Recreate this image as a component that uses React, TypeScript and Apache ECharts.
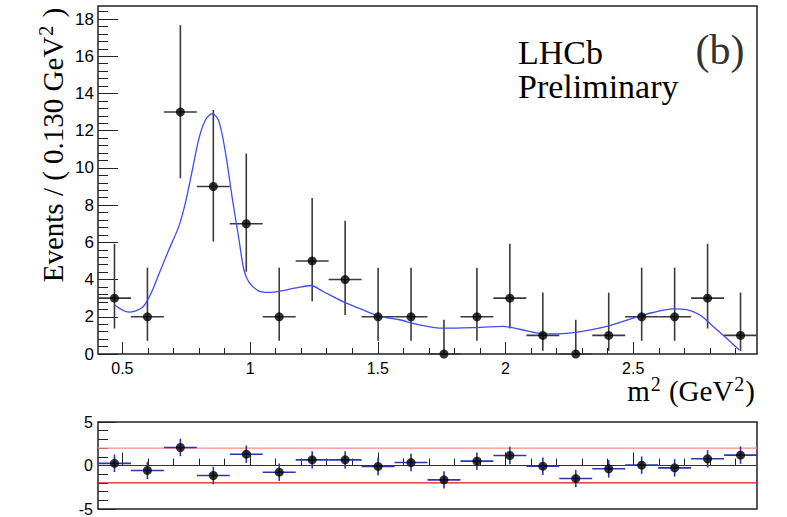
import React, { useEffect, useRef } from "react";
import * as echarts from "echarts";

// ---- data ----
const binCenters = [0.469, 0.598, 0.727, 0.856, 0.985, 1.114, 1.243, 1.372, 1.501, 1.63, 1.759, 1.888, 2.017, 2.146, 2.275, 2.404, 2.533, 2.662, 2.791, 2.92];
const counts = [3, 2, 13, 9, 7, 2, 5, 4, 2, 2, 0, 2, 3, 1, 0, 1, 2, 2, 3, 1];
const errHigh = [2.92, 2.64, 4.67, 4.11, 3.77, 2.64, 3.38, 3.16, 2.64, 2.64, 1.84, 2.64, 2.92, 2.3, 1.84, 2.3, 2.64, 2.64, 2.92, 2.3];
const errLow = [1.63, 1.29, 3.56, 2.96, 2.58, 1.29, 2.16, 1.91, 1.29, 1.29, 0, 1.29, 1.63, 0.83, 0, 0.83, 1.29, 1.29, 1.63, 0.83];
const pulls = [0.25, -0.57, 2.07, -1.15, 1.3, -0.77, 0.65, 0.65, -0.11, 0.34, -1.65, 0.5, 1.15, -0.08, -1.5, -0.38, 0.04, -0.27, 0.77, 1.19];
const fitX = [0.469, 0.525, 0.578, 0.61, 0.643, 0.682, 0.722, 0.748, 0.774, 0.8, 0.826, 0.852, 0.878, 0.905, 0.931, 0.957, 0.976, 0.996, 1.035, 1.075, 1.114, 1.18, 1.238, 1.284, 1.362, 1.44, 1.506, 1.584, 1.663, 1.754, 1.872, 1.99, 2.055, 2.16, 2.238, 2.316, 2.408, 2.5, 2.578, 2.656, 2.709, 2.76, 2.813, 2.865, 2.915];
const fitY = [2.65, 2.25, 2.5, 3.2, 4.3, 5.6, 6.9, 8.2, 9.9, 11.6, 12.6, 12.92, 12.5, 10.7, 8.3, 6.1, 4.5, 3.85, 3.38, 3.31, 3.37, 3.55, 3.68, 3.37, 2.83, 2.38, 2.04, 1.84, 1.57, 1.39, 1.42, 1.48, 1.33, 1.08, 1.11, 1.26, 1.53, 1.93, 2.23, 2.43, 2.38, 2.11, 1.48, 0.85, 0.22];
const xTickLabels = [0.5, 1, 1.5, 2, 2.5];
const yTickLabels = [0, 2, 4, 6, 8, 10, 12, 14, 16, 18];
const pullTickLabels = [-5, 0, 5];
const binHalfWidth = 0.0645;

const X_MIN = 0.4045;
const X_MAX = 2.9845;

function steps(from: number, to: number, step: number): number[] {
  const out: number[] = [];
  const n = Math.round((to - from) / step);
  for (let i = 0; i <= n; i++) out.push(Math.round((from + i * step) * 1000) / 1000);
  return out;
}

const SANS = "'Liberation Sans', Arial, sans-serif";
const SERIF = "'Liberation Serif', 'Times New Roman', serif";
const FRAME = "#222";

function errRenderer(color: string) {
  return (params: any, api: any) => {
    const x = api.value(0);
    const y = api.value(1);
    const lo = api.value(2);
    const hi = api.value(3);
    const pL = api.coord([x - binHalfWidth, y]);
    const pR = api.coord([x + binHalfWidth, y]);
    const pT = api.coord([x, y + hi]);
    const pB = api.coord([x, y - lo]);
    return {
      type: "group",
      children: [
        { type: "line", shape: { x1: pL[0], y1: pL[1], x2: pR[0], y2: pR[1] }, style: { stroke: color, lineWidth: 1.6 } },
        { type: "line", shape: { x1: pT[0], y1: pT[1], x2: pB[0], y2: pB[1] }, style: { stroke: color, lineWidth: 1.6 } },
      ],
    };
  };
}

const supRich = {
  sup: { fontSize: 20, fontFamily: SERIF, fill: "#000", verticalAlign: "top", lineHeight: 34, padding: [0, 1, 0, 1] },
};

export default function App() {
  const ref = useRef<HTMLDivElement>(null);
  useEffect(() => {
    document.body.style.margin = "0";
    if (!ref.current) return;
    const chart = echarts.init(ref.current, undefined, { renderer: "svg" });

    const tickStyle = { color: FRAME, width: 1 };
    const xAxisCommon = { type: "value", min: X_MIN, max: X_MAX, position: "bottom", axisLine: { show: false }, splitLine: { show: false } };

    const option: any = {
      animation: false,
      backgroundColor: "#fff",
      grid: [
        { left: 98, top: 6, width: 659, height: 348, show: true, borderColor: FRAME, borderWidth: 1.5, backgroundColor: "transparent", outerBoundsMode: "none" },
        { left: 98, top: 422, width: 659, height: 87, show: true, borderColor: FRAME, borderWidth: 1.5, backgroundColor: "transparent", outerBoundsMode: "none" },
      ],
      xAxis: [
        {
          ...xAxisCommon, gridIndex: 0,
          axisTick: { inside: true, length: 12, customValues: xTickLabels, lineStyle: tickStyle },
          axisLabel: { customValues: xTickLabels, formatter: (v: number) => String(v), fontSize: 16, color: "#000", fontFamily: SANS, margin: 6 },
        },
        {
          ...xAxisCommon, gridIndex: 0,
          axisTick: { inside: true, length: 6, customValues: steps(0.5, 2.9, 0.1), lineStyle: tickStyle },
          axisLabel: { show: false },
        },
        {
          ...xAxisCommon, gridIndex: 1,
          axisTick: { inside: true, length: 13, customValues: xTickLabels, lineStyle: tickStyle },
          axisLabel: { show: false },
        },
        {
          ...xAxisCommon, gridIndex: 1,
          axisTick: { inside: true, length: 7, customValues: steps(0.5, 2.9, 0.1), lineStyle: tickStyle },
          axisLabel: { show: false },
        },
      ],
      yAxis: [
        {
          type: "value", gridIndex: 0, min: 0, max: 18.7, position: "left", axisLine: { show: false }, splitLine: { show: false },
          axisTick: { inside: true, length: 20, customValues: yTickLabels, lineStyle: tickStyle },
          axisLabel: { customValues: yTickLabels, fontSize: 17, color: "#000", fontFamily: SANS, margin: 4 },
        },
        {
          type: "value", gridIndex: 0, min: 0, max: 18.7, position: "left", axisLine: { show: false }, splitLine: { show: false },
          axisTick: { inside: true, length: 10, customValues: steps(0, 18.4, 0.4), lineStyle: tickStyle },
          axisLabel: { show: false },
        },
        {
          type: "value", gridIndex: 1, min: -5, max: 5, position: "left", axisLine: { show: false }, splitLine: { show: false },
          axisTick: { inside: true, length: 18, customValues: pullTickLabels, lineStyle: tickStyle },
          axisLabel: { customValues: pullTickLabels, fontSize: 16, color: "#000", fontFamily: SANS, margin: 5 },
        },
        {
          type: "value", gridIndex: 1, min: -5, max: 5, position: "left", axisLine: { show: false }, splitLine: { show: false },
          axisTick: { inside: true, length: 10, customValues: steps(-5, 5, 1), lineStyle: tickStyle },
          axisLabel: { show: false },
        },
      ],
      series: [
        {
          type: "custom", xAxisIndex: 0, yAxisIndex: 0, clip: false,
          renderItem: errRenderer("#3a3a3a"),
          encode: { x: 0, y: 1 },
          data: binCenters.map((x, i) => [x, counts[i], errLow[i], errHigh[i]]),
          z: 2,
        },
        {
          type: "line", xAxisIndex: 0, yAxisIndex: 0, smooth: 0.3, showSymbol: false, symbol: "none",
          lineStyle: { color: "#3d4cf5", width: 1.3 },
          data: fitX.map((x, i) => [x, fitY[i]]),
          z: 3,
        },
        {
          type: "scatter", xAxisIndex: 0, yAxisIndex: 0, clip: false, symbolSize: 9,
          itemStyle: { color: "#000" },
          data: binCenters.map((x, i) => [x, counts[i]]),
          z: 4,
        },
        {
          type: "line", xAxisIndex: 2, yAxisIndex: 2, symbol: "none",
          lineStyle: { color: "#ff8a8a", width: 1.4 },
          data: [[X_MIN, 2], [X_MAX, 2]],
          z: 1,
        },
        {
          type: "line", xAxisIndex: 2, yAxisIndex: 2, symbol: "none",
          lineStyle: { color: "#ee1111", width: 1.2 },
          data: [[X_MIN, -2], [X_MAX, -2]],
          z: 1,
        },
        {
          type: "line", xAxisIndex: 2, yAxisIndex: 2, symbol: "none",
          lineStyle: { color: "#333", width: 1.2 },
          data: [[X_MIN, 0], [X_MAX, 0]],
          z: 1,
        },
        {
          type: "custom", xAxisIndex: 2, yAxisIndex: 2, clip: false,
          renderItem: errRenderer("#2a35b0"),
          encode: { x: 0, y: 1 },
          data: binCenters.map((x, i) => [x, pulls[i], 1, 1]),
          z: 2,
        },
        {
          type: "scatter", xAxisIndex: 2, yAxisIndex: 2, clip: false, symbolSize: 9,
          itemStyle: { color: "#000" },
          data: binCenters.map((x, i) => [x, pulls[i]]),
          z: 4,
        },
      ],
      graphic: [
        {
          type: "text", x: 53, y: 145, rotation: Math.PI / 2,
          style: { text: "Events / ( 0.130 GeV{sup|2} )", fontSize: 29, fontFamily: SERIF, fill: "#000", align: "center", verticalAlign: "middle", rich: supRich },
        },
        {
          type: "text", x: 755, y: 391,
          style: { text: "m{sup|2} (GeV{sup|2})", fontSize: 29, fontFamily: SERIF, fill: "#000", align: "right", verticalAlign: "middle", rich: supRich },
        },
        {
          type: "text", x: 518, y: 52,
          style: { text: "LHCb", font: `34px ${SERIF}`, fill: "#000", align: "left", verticalAlign: "middle" },
        },
        {
          type: "text", x: 518, y: 86,
          style: { text: "Preliminary", font: `34px ${SERIF}`, fill: "#000", align: "left", verticalAlign: "middle" },
        },
        {
          type: "text", x: 720, y: 50,
          style: { text: "(b)", font: `42px ${SERIF}`, fill: "#333", align: "center", verticalAlign: "middle" },
        },
      ],
    };
    chart.setOption(option);
    return () => chart.dispose();
  }, []);
  return <div ref={ref} style={{ width: 787, height: 517 }} />;
}
